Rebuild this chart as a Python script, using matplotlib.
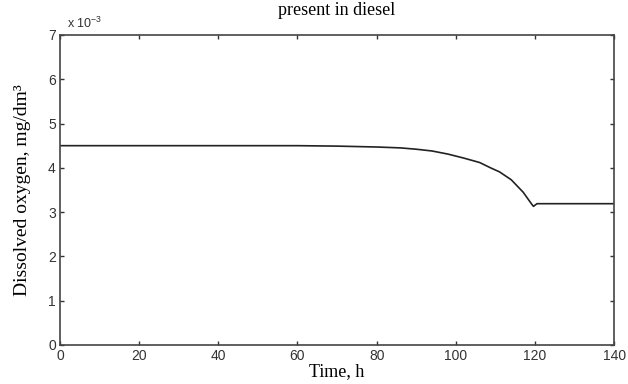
import numpy as np
import matplotlib.pyplot as plt
from matplotlib.ticker import FuncFormatter

# Dissolved oxygen (mg/dm3) vs time (h)
time_h = [0, 20, 40, 60, 70, 80, 86, 90, 94, 98, 102, 106, 109, 111, 114, 117, 119, 119.6, 120.5, 122, 130, 140]
oxygen = [4.50e-3, 4.50e-3, 4.50e-3, 4.50e-3, 4.49e-3, 4.47e-3, 4.45e-3, 4.42e-3, 4.38e-3, 4.31e-3, 4.22e-3, 4.12e-3, 3.99e-3, 3.91e-3, 3.73e-3, 3.45e-3, 3.20e-3, 3.13e-3, 3.19e-3, 3.19e-3, 3.19e-3, 3.19e-3]

plt.rcParams['mathtext.fontset'] = 'custom'
plt.rcParams['mathtext.rm'] = 'Liberation Sans'

fig = plt.figure(figsize=(6.28, 3.84), dpi=100)
ax = fig.add_axes([0.0955, 0.1016, 0.8825, 0.8074])

ax.plot(time_h, oxygen, color='#222222', linewidth=1.2)

ax.set_xlim(0, 140)
ax.set_ylim(0, 7e-3)
ax.set_xticks(np.arange(0, 141, 20))
ax.set_yticks(np.arange(0, 7.01e-3, 1e-3))
ax.yaxis.set_major_formatter(FuncFormatter(lambda v, p: '%g' % round(v * 1e3, 6)))

# exponent label as MATLAB draws it
ax.text(0.012, 1.012, r'x 10$^{\mathrm{-3}}$', transform=ax.transAxes, fontsize=9,
        family='Liberation Sans', color='#333333', va='bottom', ha='left')

ax.tick_params(direction='in', top=True, right=True, length=3, width=1,
               labelsize=10, colors='#333333', pad=3)
for lab in ax.get_xticklabels() + ax.get_yticklabels():
    lab.set_family('Liberation Sans')
for s in ax.spines.values():
    s.set_color('#444444')
    s.set_linewidth(1.2)

serif = ['Liberation Serif', 'DejaVu Serif']
ax.set_xlabel('Time, h', family=serif, fontsize=13, labelpad=0)
ax.set_ylabel('Dissolved oxygen, mg/dm³', family=serif, fontsize=14, labelpad=12)
ax.set_title('present in diesel', family=serif, fontsize=13, pad=14)

fig.savefig('out.png', dpi=100)
